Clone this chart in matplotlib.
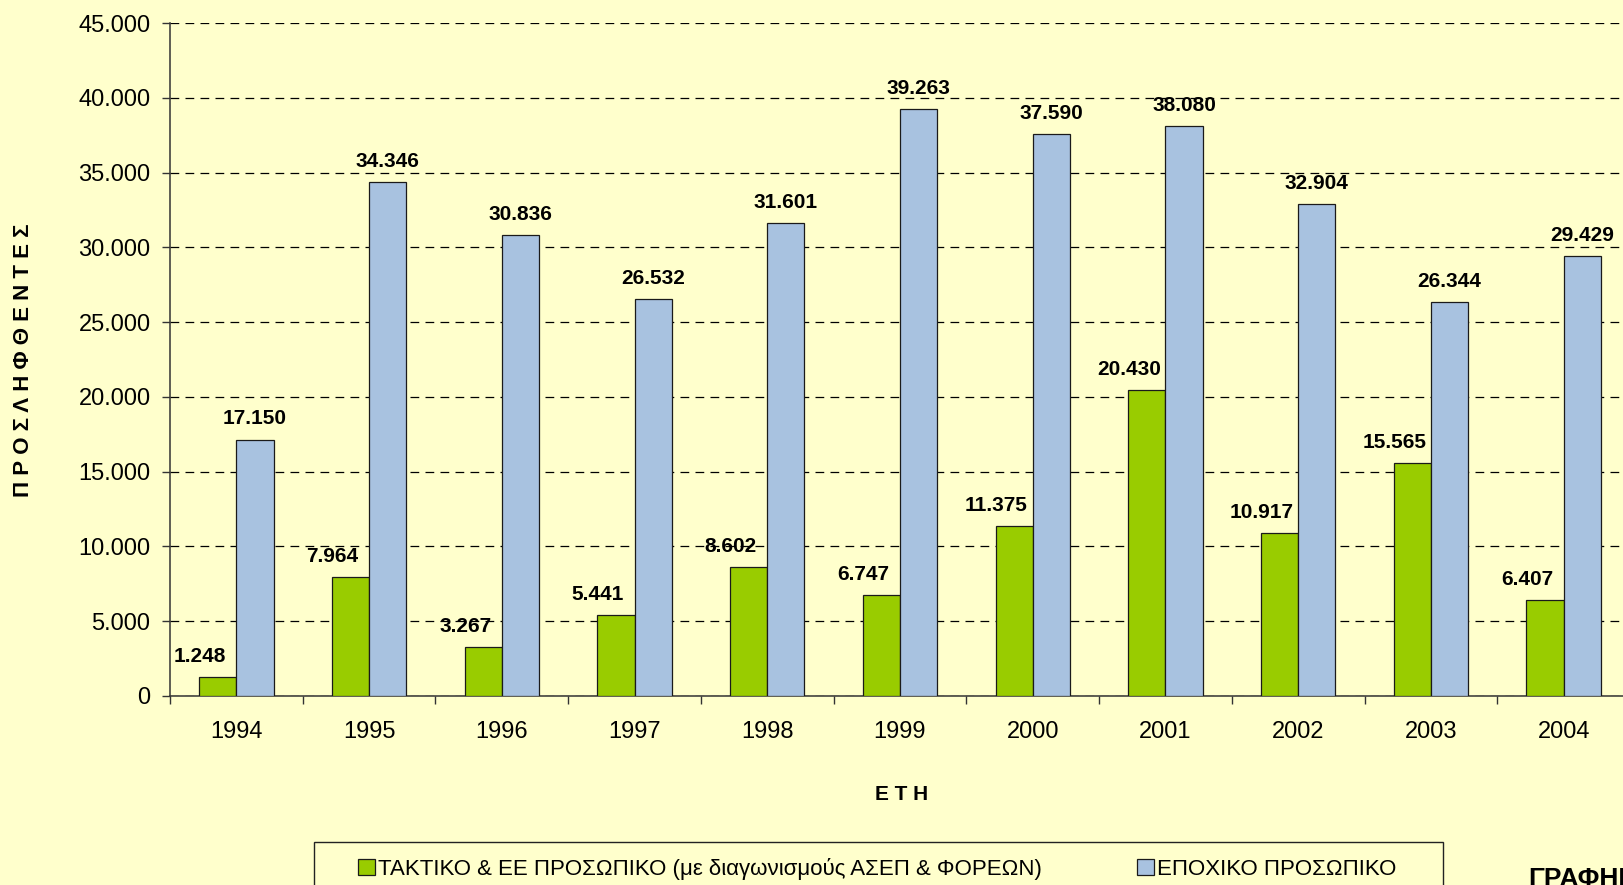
import matplotlib
matplotlib.use('Agg')
import matplotlib.pyplot as plt
from matplotlib.patches import Rectangle
from matplotlib.ticker import FuncFormatter, MultipleLocator, FixedLocator
import numpy as np

plt.rcParams['font.family'] = ['Liberation Sans', 'DejaVu Sans']

years = ['1994', '1995', '1996', '1997', '1998', '1999',
         '2000', '2001', '2002', '2003', '2004']
regular_staff = [1248, 7964, 3267, 5441, 8602, 6747,
                 11375, 20430, 10917, 15565, 6407]
seasonal_staff = [17150, 34346, 30836, 26532, 31601, 39263,
                  37590, 38080, 32904, 26344, 29429]

label_regular = 'ΤΑΚΤΙΚΟ & ΕΕ ΠΡΟΣΩΠΙΚΟ (με διαγωνισμούς ΑΣΕΠ & ΦΟΡΕΩΝ)'
label_seasonal = 'ΕΠΟΧΙΚΟ ΠΡΟΣΩΠΙΚΟ'
ylabel = 'ΠΡΟΣΛΗΦΘΕΝΤΕΣ'
xlabel = 'ΕΤΗ'

bg = '#FFFFCC'
green = '#99CC00'
blue = '#A8C2E0'

W, H = 1624, 885


def thousands(v, pos=None):
    return '{:,}'.format(int(v)).replace(',', '.')


fig = plt.figure(figsize=(W / 100, H / 100), dpi=100, facecolor=bg)
ax = fig.add_axes([170 / W, 189 / H, 1460 / W, 673 / H])
ax.set_facecolor(bg)

x = np.arange(len(years))
w = 0.28
b1 = ax.bar(x - w / 2, regular_staff, w, color=green, edgecolor='#1a1a1a',
            linewidth=0.9, label=label_regular, zorder=3)
b2 = ax.bar(x + w / 2, seasonal_staff, w, color=blue, edgecolor='#1a1a1a',
            linewidth=0.9, label=label_seasonal, zorder=3)

for rect, v in zip(b1, regular_staff):
    ax.annotate(thousands(v), (rect.get_x() + rect.get_width() / 2, v),
                xytext=(-13, 8), textcoords='offset points',
                ha='center', va='bottom', fontsize=15, fontweight='bold')
for rect, v in zip(b2, seasonal_staff):
    ax.annotate(thousands(v), (rect.get_x() + rect.get_width() / 2, v),
                xytext=(0, 8), textcoords='offset points',
                ha='center', va='bottom', fontsize=15, fontweight='bold')

ax.set_xlim(-0.5, len(years) - 0.5)
ax.set_ylim(0, 45000)
ax.yaxis.set_major_locator(MultipleLocator(5000))
ax.yaxis.set_major_formatter(FuncFormatter(thousands))
ax.grid(axis='y', color='black', linestyle=(0, (7, 5)), linewidth=0.9, zorder=1)

ax.set_xticks(x)
ax.set_xticklabels(years)
ax.xaxis.set_minor_locator(FixedLocator(np.arange(-0.5, len(years), 1.0)))
ax.tick_params(axis='x', which='major', length=0, pad=18, labelsize=17)
ax.tick_params(axis='x', which='minor', length=6, width=1, color='#333333')
ax.tick_params(axis='y', length=6, width=1, color='#333333', pad=8, labelsize=17)

for side in ['top', 'right']:
    ax.spines[side].set_visible(False)
for side in ['left', 'bottom']:
    ax.spines[side].set_color('#333333')
    ax.spines[side].set_linewidth(1.1)

fig.text(24 / W, 1 - 360 / H, ' '.join(ylabel), rotation=90,
         ha='center', va='center', fontsize=16, fontweight='bold')
fig.text(902 / W, 1 - 794 / H, ' '.join(xlabel),
         ha='center', va='center', fontsize=15, fontweight='bold')

# legend box runs past the bottom edge, as in the original
fig.patches.append(Rectangle((314 / W, -0.05), (1443 - 314) / W, 0.05 + (H - 842) / H,
                             transform=fig.transFigure, facecolor=bg,
                             edgecolor='#222222', linewidth=1.0))
leg = fig.legend(handles=[b1, b2], loc='center left', ncol=2,
                 bbox_to_anchor=(358 / W, 1 - 869 / H),
                 frameon=False, fontsize=16,
                 handlelength=0.75, handleheight=0.75, handletextpad=0.15,
                 columnspacing=4.3, borderpad=0, borderaxespad=0)

fig.text(1528 / W, 1 - 867 / H, 'ΓΡΑΦΗΜΑ', ha='left', va='top',
         fontsize=19, fontweight='bold')

fig.savefig('out.png', dpi=100, facecolor=bg)
